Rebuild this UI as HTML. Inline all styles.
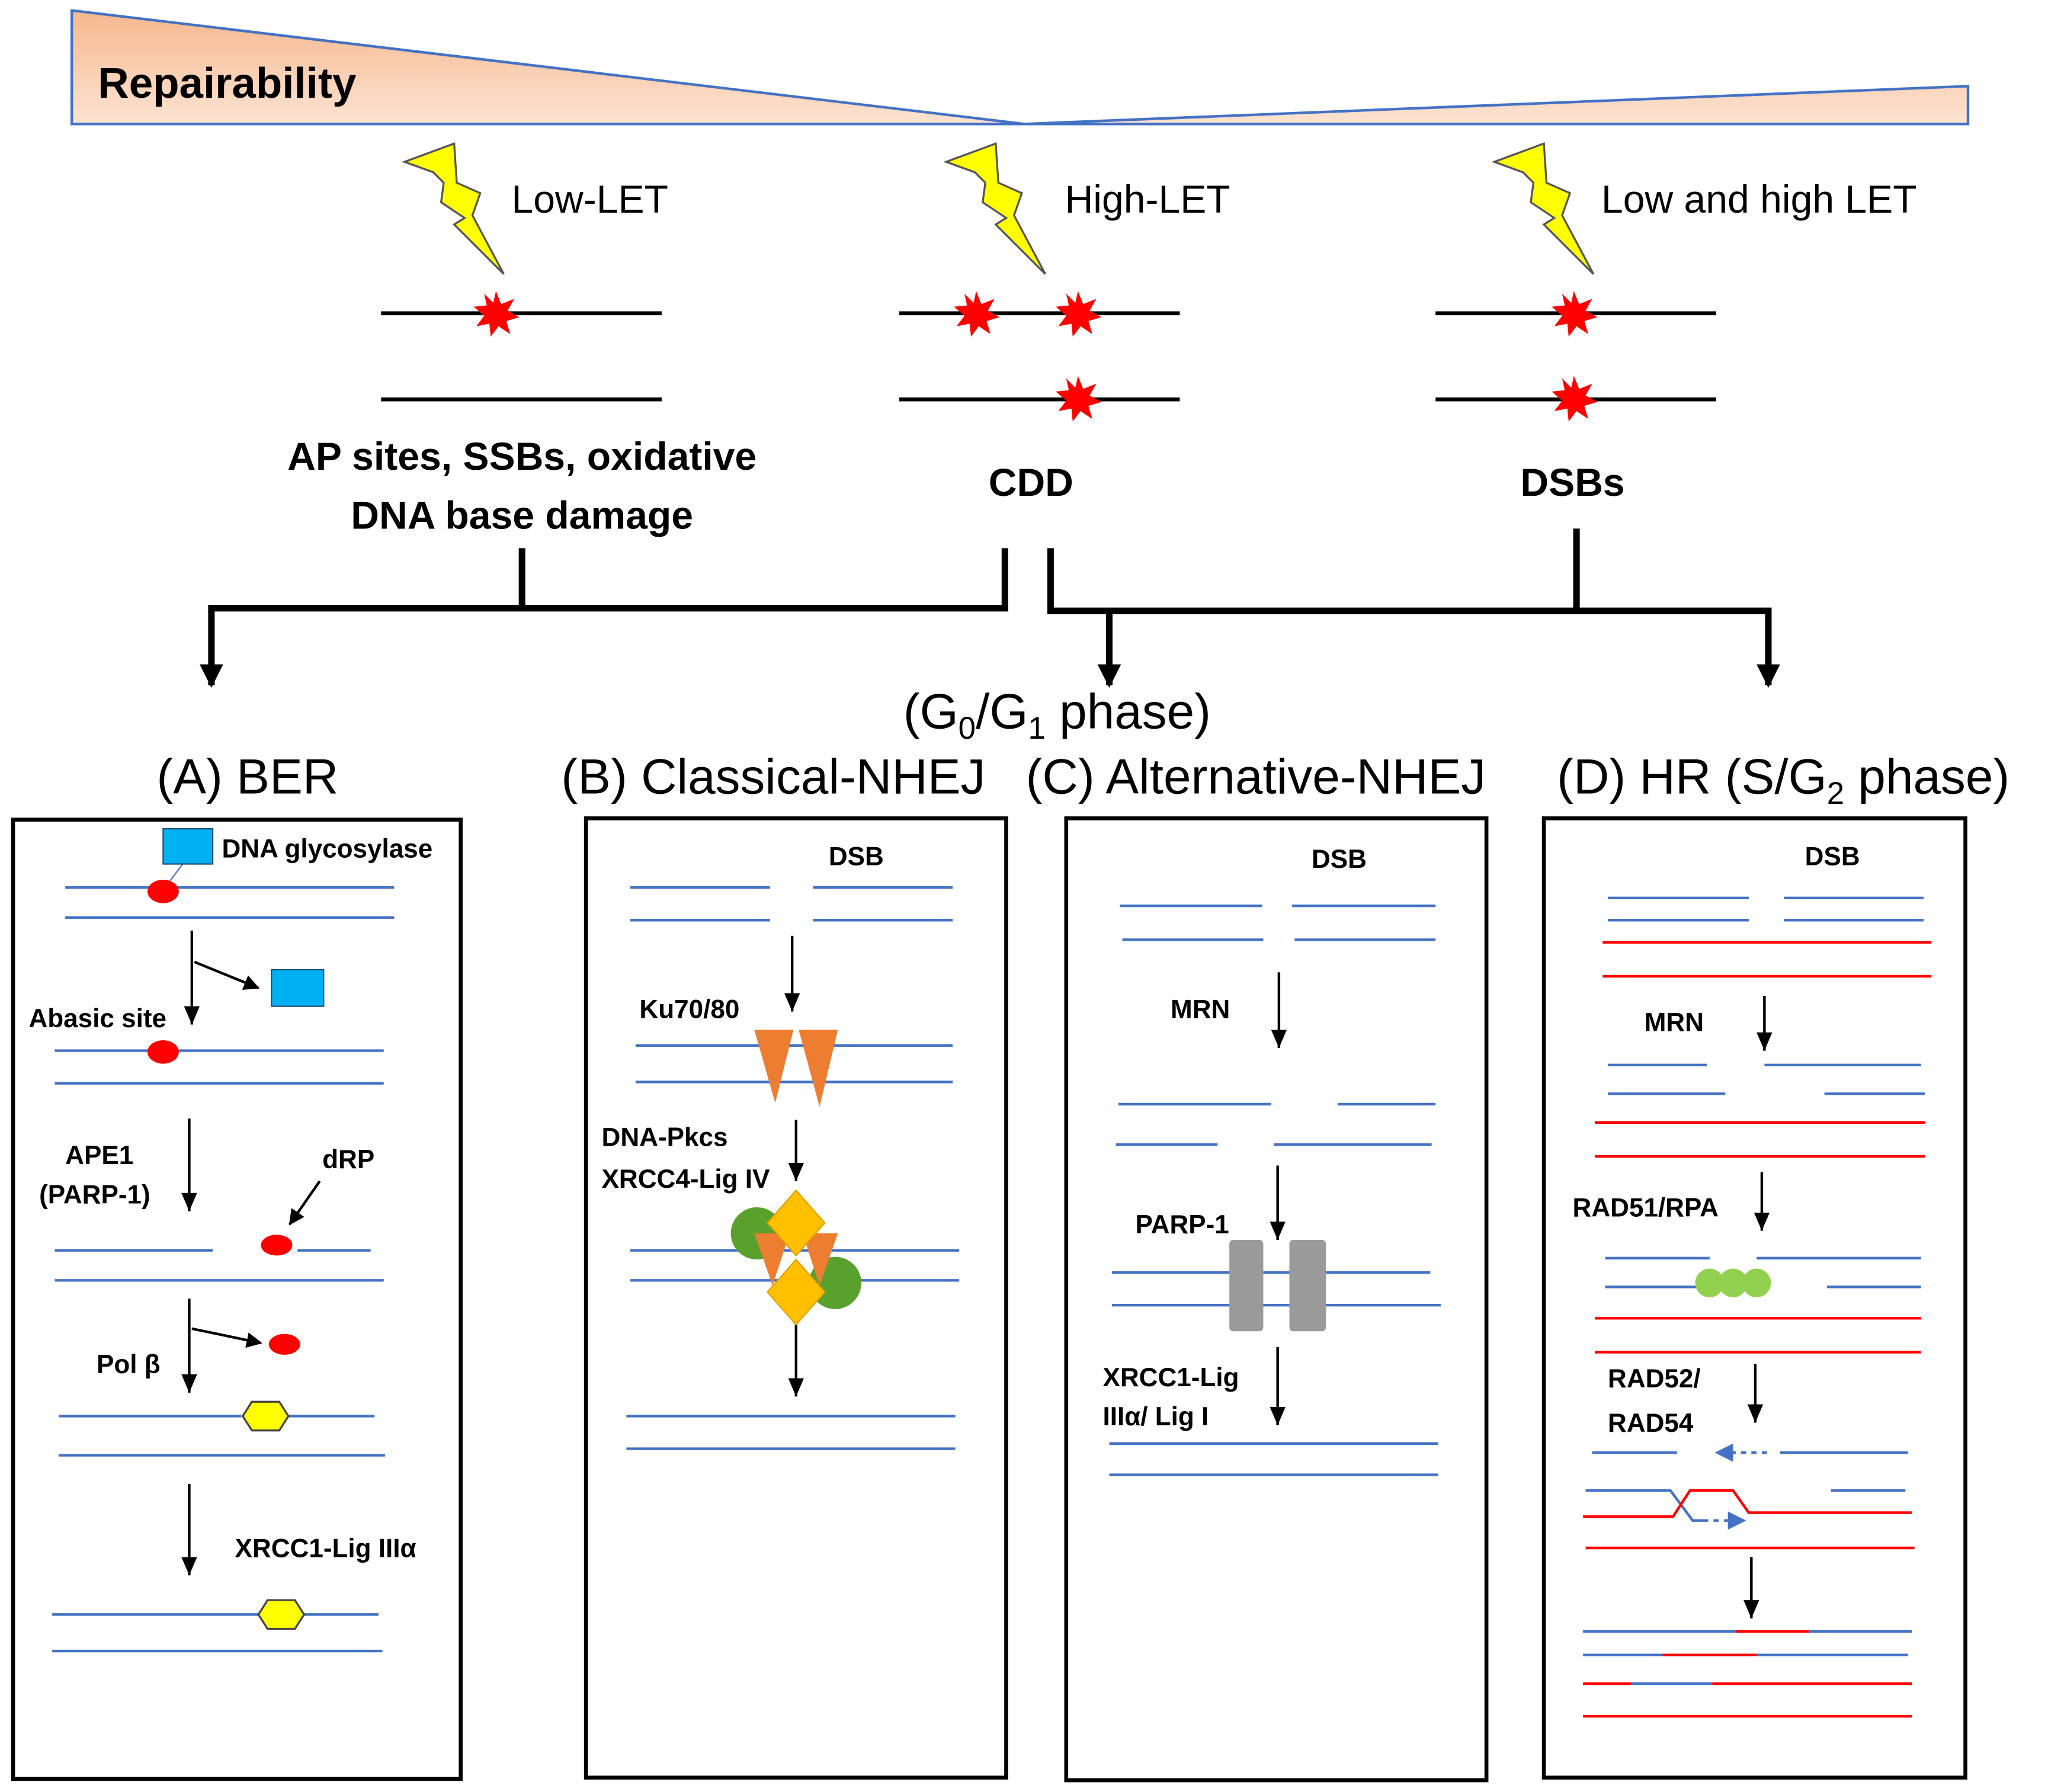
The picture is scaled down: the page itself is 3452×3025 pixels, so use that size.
<!DOCTYPE html>
<html><head><meta charset="utf-8"><style>html,body{margin:0;padding:0;background:#fff}svg{display:block}</style></head>
<body>
<svg width="3452" height="3025" viewBox="0 0 1567 1373" preserveAspectRatio="none" xmlns="http://www.w3.org/2000/svg" font-family="Liberation Sans, sans-serif">
<defs>
<linearGradient id="g" x1="0" y1="0" x2="0" y2="1"><stop offset="0" stop-color="#f6b88e"/><stop offset="1" stop-color="#fde3d2"/></linearGradient>
<marker id="ah" markerWidth="14" markerHeight="12" refX="14" refY="6" orient="auto" markerUnits="userSpaceOnUse" viewBox="0 0 14 12"><path d="M0,0 L14,6 L0,12 Z" fill="#000"/></marker>
<marker id="ab" markerWidth="18" markerHeight="18" refX="16" refY="9" orient="auto" markerUnits="userSpaceOnUse" viewBox="0 0 18 18"><path d="M0,0 L18,9 L0,18 Z" fill="#000"/></marker>
<marker id="am" markerWidth="12" markerHeight="12" refX="11" refY="6" orient="auto" markerUnits="userSpaceOnUse" viewBox="0 0 12 12"><path d="M0,0 L12,6 L0,12 Z" fill="#000"/></marker>
<marker id="bl" markerWidth="14" markerHeight="14" refX="12" refY="7" orient="auto" markerUnits="userSpaceOnUse" viewBox="0 0 14 14"><path d="M0,0 L14,7 L0,14 Z" fill="#4472c4"/></marker>
<polygon id="star" points="0,-18 4,-8 14,-12 9,-3 18,2 8,5 11,15 2,9 -4,17 -5,7 -15,9 -9,1 -17,-6 -7,-7 -9,-16 -2,-9" fill="#ff0000"/>
<polygon id="bolt" points="0,14 38,0 40,30 58,38 52,55 76,100 38,62 46,57 28,45 30,30 22,22" fill="#ffff00" stroke="#555" stroke-width="1.5"/>
</defs>
<polygon points="55,8 785,95 1508,66 1508,95 55,95" fill="url(#g)" stroke="#4472c4" stroke-width="2"/>
<text x="75" y="75" font-size="33" font-weight="bold">Repairability</text>
<use href="#bolt" x="310" y="110"/><use href="#bolt" x="725" y="110"/><use href="#bolt" x="1145" y="110"/>
<g font-size="30"><text x="392" y="163">Low-LET</text><text x="816" y="163">High-LET</text><text x="1227" y="163">Low and high LET</text></g>
<g stroke="#000" stroke-width="3"><line x1="292" y1="240" x2="507" y2="240"/><line x1="292" y1="306" x2="507" y2="306"/><line x1="689" y1="240" x2="904" y2="240"/><line x1="689" y1="306" x2="904" y2="306"/><line x1="1100" y1="240" x2="1315" y2="240"/><line x1="1100" y1="306" x2="1315" y2="306"/></g>
<use href="#star" x="380" y="241"/><use href="#star" x="748" y="241"/><use href="#star" x="826" y="241"/><use href="#star" x="826" y="306"/><use href="#star" x="1206" y="241"/><use href="#star" x="1206" y="306"/>
<g font-size="30" font-weight="bold" text-anchor="middle"><text x="400" y="360">AP sites, SSBs, oxidative</text><text x="400" y="405">DNA base damage</text><text x="790" y="380">CDD</text><text x="1205" y="380">DSBs</text></g>
<g stroke="#000" stroke-width="5" fill="none"><polyline points="400,420 400,466"/><polyline points="770,420 770,466 162,466 162,525" marker-end="url(#ab)"/><polyline points="805,420 805,468 1355,468 1355,525" marker-end="url(#ab)"/><line x1="1208" y1="405" x2="1208" y2="468"/><line x1="850" y1="468" x2="850" y2="525" marker-end="url(#ab)"/></g>
<text x="810" y="558" font-size="38" text-anchor="middle">(G<tspan font-size="24" dy="8">0</tspan><tspan dy="-8">/G</tspan><tspan font-size="24" dy="8">1</tspan><tspan dy="-8"> phase)</tspan></text>
<g font-size="38"><text x="120" y="608">(A) BER</text><text x="430" y="608">(B) Classical-NHEJ</text><text x="786" y="608">(C) Alternative-NHEJ</text><text x="1193" y="608">(D) HR (S/G<tspan font-size="24" dy="8">2</tspan><tspan dy="-8"> phase)</tspan></text></g>
<g fill="none" stroke="#000" stroke-width="3"><rect x="10" y="628" width="343" height="735"/><rect x="449" y="627" width="322" height="735"/><rect x="817" y="627" width="322" height="737"/><rect x="1183" y="627" width="323" height="735"/></g>
<g font-size="20" font-weight="bold">
<text x="170" y="657">DNA glycosylase</text><text x="22" y="787">Abasic site</text><text x="50" y="892">APE1</text><text x="30" y="922">(PARP-1)</text><text x="247" y="895">dRP</text><text x="74" y="1052">Pol β</text><text x="180" y="1193">XRCC1-Lig IIIα</text>
<text x="635" y="663">DSB</text><text x="490" y="780">Ku70/80</text><text x="461" y="878">DNA-Pkcs</text><text x="461" y="910">XRCC4-Lig IV</text>
<text x="1005" y="665">DSB</text><text x="897" y="780">MRN</text><text x="870" y="945">PARP-1</text><text x="845" y="1062">XRCC1-Lig</text><text x="845" y="1092">IIIα/ Lig I</text>
<text x="1383" y="663">DSB</text><text x="1260" y="790">MRN</text><text x="1205" y="932">RAD51/RPA</text><text x="1232" y="1063">RAD52/</text><text x="1232" y="1097">RAD54</text>
</g>
<g stroke="#4472c4" stroke-width="2">
<line x1="50" y1="680" x2="302" y2="680"/><line x1="50" y1="703" x2="302" y2="703"/>
<line x1="42" y1="805" x2="294" y2="805"/><line x1="42" y1="830" x2="294" y2="830"/>
<line x1="42" y1="958" x2="163" y2="958"/><line x1="228" y1="958" x2="284" y2="958"/><line x1="42" y1="981" x2="294" y2="981"/>
<line x1="45" y1="1085" x2="185" y2="1085"/><line x1="220" y1="1085" x2="287" y2="1085"/><line x1="45" y1="1115" x2="295" y2="1115"/>
<line x1="40" y1="1237" x2="290" y2="1237"/><line x1="40" y1="1265" x2="293" y2="1265"/>
<line x1="483" y1="680" x2="590" y2="680"/><line x1="623" y1="680" x2="730" y2="680"/><line x1="483" y1="705" x2="590" y2="705"/><line x1="623" y1="705" x2="730" y2="705"/>
<line x1="487" y1="801" x2="730" y2="801"/><line x1="487" y1="829" x2="730" y2="829"/>
<line x1="483" y1="958" x2="735" y2="958"/><line x1="483" y1="981" x2="735" y2="981"/>
<line x1="480" y1="1085" x2="732" y2="1085"/><line x1="480" y1="1110" x2="732" y2="1110"/>
<line x1="858" y1="694" x2="967" y2="694"/><line x1="990" y1="694" x2="1100" y2="694"/><line x1="860" y1="720" x2="968" y2="720"/><line x1="992" y1="720" x2="1100" y2="720"/>
<line x1="857" y1="846" x2="974" y2="846"/><line x1="1025" y1="846" x2="1100" y2="846"/><line x1="855" y1="877" x2="933" y2="877"/><line x1="976" y1="877" x2="1097" y2="877"/>
<line x1="852" y1="975" x2="1096" y2="975"/><line x1="852" y1="1000" x2="1104" y2="1000"/>
<line x1="850" y1="1106" x2="1102" y2="1106"/><line x1="850" y1="1130" x2="1102" y2="1130"/>
<line x1="1232" y1="688" x2="1340" y2="688"/><line x1="1367" y1="688" x2="1474" y2="688"/><line x1="1232" y1="705" x2="1340" y2="705"/><line x1="1367" y1="705" x2="1474" y2="705"/>
<line x1="1232" y1="816" x2="1308" y2="816"/><line x1="1352" y1="816" x2="1472" y2="816"/><line x1="1232" y1="838" x2="1322" y2="838"/><line x1="1398" y1="838" x2="1475" y2="838"/>
<line x1="1230" y1="964" x2="1310" y2="964"/><line x1="1346" y1="964" x2="1472" y2="964"/><line x1="1230" y1="986" x2="1300" y2="986"/><line x1="1400" y1="986" x2="1472" y2="986"/>
<line x1="1220" y1="1113" x2="1285" y2="1113"/><line x1="1364" y1="1113" x2="1462" y2="1113"/>
<line x1="1354" y1="1113" x2="1316" y2="1113" stroke-dasharray="4,4" marker-end="url(#bl)"/>
<polyline points="1215,1142 1280,1142 1297,1165 1305,1165" fill="none"/>
<line x1="1305" y1="1165" x2="1336" y2="1165" stroke-dasharray="4,4" marker-end="url(#bl)"/>
<line x1="1403" y1="1142" x2="1460" y2="1142"/>
<line x1="1213" y1="1250" x2="1330" y2="1250"/><line x1="1386" y1="1250" x2="1465" y2="1250"/>
<line x1="1213" y1="1268" x2="1274" y2="1268"/><line x1="1346" y1="1268" x2="1462" y2="1268"/>
<line x1="1250" y1="1290" x2="1312" y2="1290"/>
</g>
<g stroke="#ff0000" stroke-width="2" fill="none">
<line x1="1228" y1="722" x2="1480" y2="722"/><line x1="1228" y1="748" x2="1480" y2="748"/>
<line x1="1222" y1="860" x2="1475" y2="860"/><line x1="1222" y1="886" x2="1475" y2="886"/>
<line x1="1222" y1="1010" x2="1472" y2="1010"/><line x1="1222" y1="1036" x2="1472" y2="1036"/>
<polyline points="1213,1162 1282,1162 1295,1142 1328,1142 1340,1159 1465,1159"/>
<line x1="1215" y1="1186" x2="1467" y2="1186"/>
<line x1="1330" y1="1250" x2="1386" y2="1250"/><line x1="1274" y1="1268" x2="1346" y2="1268"/>
<line x1="1213" y1="1290" x2="1250" y2="1290"/><line x1="1312" y1="1290" x2="1465" y2="1290"/>
<line x1="1213" y1="1315" x2="1465" y2="1315"/>
</g>
<g stroke="#000" stroke-width="2" fill="none">
<line x1="147" y1="713" x2="147" y2="785" marker-end="url(#ah)"/><line x1="149" y1="737" x2="198" y2="757" marker-end="url(#am)"/>
<line x1="145" y1="857" x2="145" y2="928" marker-end="url(#ah)"/><line x1="245" y1="905" x2="222" y2="938" marker-end="url(#am)"/>
<line x1="145" y1="995" x2="145" y2="1067" marker-end="url(#ah)"/><line x1="147" y1="1018" x2="200" y2="1029" marker-end="url(#am)"/>
<line x1="145" y1="1137" x2="145" y2="1207" marker-end="url(#ah)"/>
<line x1="607" y1="717" x2="607" y2="775" marker-end="url(#ah)"/><line x1="610" y1="858" x2="610" y2="905" marker-end="url(#ah)"/><line x1="610" y1="1015" x2="610" y2="1070" marker-end="url(#ah)"/>
<line x1="980" y1="745" x2="980" y2="803" marker-end="url(#ah)"/><line x1="979" y1="893" x2="979" y2="950" marker-end="url(#ah)"/><line x1="979" y1="1032" x2="979" y2="1092" marker-end="url(#ah)"/>
<line x1="1352" y1="763" x2="1352" y2="805" marker-end="url(#ah)"/><line x1="1350" y1="898" x2="1350" y2="943" marker-end="url(#ah)"/><line x1="1345" y1="1045" x2="1345" y2="1090" marker-end="url(#ah)"/><line x1="1342" y1="1193" x2="1342" y2="1240" marker-end="url(#ah)"/>
</g>
<line x1="140" y1="662" x2="128" y2="678" stroke="#4472c4" stroke-width="1"/>
<rect x="125" y="635" width="38" height="27" fill="#00b0f0" stroke="#1f4e79" stroke-width="1"/>
<rect x="208" y="743" width="40" height="28" fill="#00b0f0" stroke="#1f4e79" stroke-width="1"/>
<g fill="#ff0000"><ellipse cx="125" cy="683" rx="12" ry="9"/><ellipse cx="125" cy="806" rx="12" ry="9"/><ellipse cx="212" cy="954" rx="12" ry="8"/><ellipse cx="218" cy="1030" rx="12" ry="8"/></g>
<g fill="#ffff00" stroke="#444" stroke-width="1.5"><polygon points="186,1085 193,1074 214,1074 221,1085 214,1096 193,1096"/><polygon points="198,1237 205,1226 226,1226 233,1237 226,1248 205,1248"/></g>
<g fill="#ed7d31"><polygon points="578,789 608,789 594,845"/><polygon points="612,789 642,789 628,848"/></g>
<circle cx="580" cy="945" r="20" fill="#5aa02c"/><circle cx="640" cy="983" r="20" fill="#5aa02c"/>
<g fill="#ed7d31"><polygon points="578,945 605,945 592,985"/><polygon points="615,945 642,945 628,985"/></g>
<g fill="#ffc000" stroke="#e0a000"><polygon points="610,912 632,937 610,962 588,937"/><polygon points="610,965 632,990 610,1015 588,990"/></g>
<g fill="#9a9a9a"><rect x="942" y="950" width="26" height="70" rx="3"/><rect x="988" y="950" width="28" height="70" rx="3"/></g>
<g fill="#92d050"><circle cx="1310" cy="983" r="11"/><circle cx="1328" cy="983" r="11"/><circle cx="1346" cy="983" r="11"/></g>
</svg>
</body></html>
